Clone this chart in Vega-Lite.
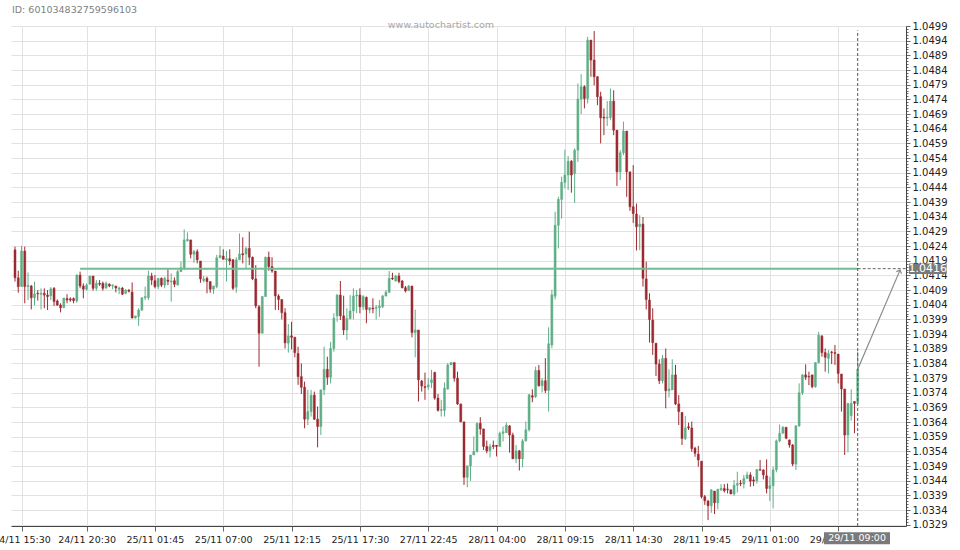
{
  "$schema": "https://vega.github.io/schema/vega-lite/v6.json",
  "width": 895,
  "height": 500,
  "autosize": {"type": "none"},
  "padding": {"left": 11, "top": 26, "right": 54, "bottom": 24},
  "background": "white",
  "title": {"text": "ID: 601034832759596103", "anchor": "start", "frame": "group", "dx": 1, "offset": 6, "font": "DejaVu Sans", "fontSize": 9.5, "fontWeight": "normal", "color": "#808080"},
  "config": {"view": {"stroke": null}, "font": "DejaVu Sans"},
  "datasets": {
    "candles": [
{"k":0,"o":1.04227,"h":1.04238,"l":1.04119,"c":1.04132},
{"k":1,"o":1.04132,"h":1.04156,"l":1.04081,"c":1.04102},
{"k":2,"o":1.04102,"h":1.04241,"l":1.04102,"c":1.04223},
{"k":3,"o":1.04223,"h":1.04238,"l":1.04045,"c":1.04102},
{"k":4,"o":1.04102,"h":1.0415,"l":1.04056,"c":1.04106},
{"k":5,"o":1.04104,"h":1.04107,"l":1.04024,"c":1.04064},
{"k":6,"o":1.04064,"h":1.04119,"l":1.04038,"c":1.04077},
{"k":7,"o":1.04079,"h":1.0409,"l":1.04054,"c":1.04077},
{"k":8,"o":1.04076,"h":1.04096,"l":1.04024,"c":1.04079},
{"k":9,"o":1.04079,"h":1.04096,"l":1.04028,"c":1.04073},
{"k":10,"o":1.04073,"h":1.0409,"l":1.04022,"c":1.04068},
{"k":11,"o":1.0407,"h":1.041,"l":1.04056,"c":1.04094},
{"k":12,"o":1.04096,"h":1.041,"l":1.04036,"c":1.04051},
{"k":13,"o":1.04053,"h":1.04058,"l":1.04036,"c":1.04039},
{"k":14,"o":1.04039,"h":1.04045,"l":1.04014,"c":1.0403},
{"k":15,"o":1.0403,"h":1.04063,"l":1.0403,"c":1.04063},
{"k":16,"o":1.04061,"h":1.04076,"l":1.04045,"c":1.04056},
{"k":17,"o":1.0406,"h":1.04065,"l":1.0405,"c":1.04056},
{"k":18,"o":1.04061,"h":1.04065,"l":1.04045,"c":1.04054},
{"k":19,"o":1.04053,"h":1.04144,"l":1.04047,"c":1.04141},
{"k":20,"o":1.04141,"h":1.04153,"l":1.04096,"c":1.04104},
{"k":21,"o":1.04104,"h":1.04113,"l":1.04062,"c":1.04093},
{"k":22,"o":1.04093,"h":1.04113,"l":1.04088,"c":1.04107},
{"k":23,"o":1.0411,"h":1.04138,"l":1.0411,"c":1.04138},
{"k":24,"o":1.04138,"h":1.04138,"l":1.04088,"c":1.04096},
{"k":25,"o":1.04096,"h":1.04124,"l":1.04088,"c":1.04113},
{"k":26,"o":1.04113,"h":1.04124,"l":1.04104,"c":1.0411},
{"k":27,"o":1.04113,"h":1.04119,"l":1.04088,"c":1.04096},
{"k":28,"o":1.04098,"h":1.04119,"l":1.04093,"c":1.04113},
{"k":29,"o":1.0411,"h":1.04113,"l":1.041,"c":1.04104},
{"k":30,"o":1.04104,"h":1.0411,"l":1.04093,"c":1.04107},
{"k":31,"o":1.04104,"h":1.04104,"l":1.04082,"c":1.04097},
{"k":32,"o":1.04093,"h":1.04102,"l":1.04076,"c":1.04097},
{"k":33,"o":1.04097,"h":1.041,"l":1.04073,"c":1.04076},
{"k":34,"o":1.04079,"h":1.04093,"l":1.04076,"c":1.0409},
{"k":35,"o":1.0409,"h":1.04093,"l":1.04082,"c":1.04086},
{"k":36,"o":1.04083,"h":1.04116,"l":1.03993,"c":1.03995},
{"k":37,"o":1.03995,"h":1.04002,"l":1.03993,"c":1.04002},
{"k":38,"o":1.04,"h":1.04028,"l":1.03968,"c":1.04022},
{"k":39,"o":1.04022,"h":1.04064,"l":1.04019,"c":1.04064},
{"k":40,"o":1.04064,"h":1.04102,"l":1.04056,"c":1.04068},
{"k":41,"o":1.04064,"h":1.04156,"l":1.04056,"c":1.04138},
{"k":42,"o":1.04138,"h":1.04149,"l":1.04107,"c":1.04124},
{"k":43,"o":1.04122,"h":1.04141,"l":1.04096,"c":1.04102},
{"k":44,"o":1.04102,"h":1.0413,"l":1.04093,"c":1.0413},
{"k":45,"o":1.0413,"h":1.04133,"l":1.041,"c":1.04107},
{"k":46,"o":1.04107,"h":1.04136,"l":1.04096,"c":1.0413},
{"k":47,"o":1.04124,"h":1.04161,"l":1.04107,"c":1.0412},
{"k":48,"o":1.04118,"h":1.04147,"l":1.04051,"c":1.04121},
{"k":49,"o":1.04122,"h":1.04133,"l":1.041,"c":1.0411},
{"k":50,"o":1.04107,"h":1.04158,"l":1.04107,"c":1.04153},
{"k":51,"o":1.04153,"h":1.04187,"l":1.04153,"c":1.04166},
{"k":52,"o":1.04164,"h":1.04297,"l":1.04158,"c":1.04261},
{"k":53,"o":1.04258,"h":1.04287,"l":1.04255,"c":1.04263},
{"k":54,"o":1.04261,"h":1.04261,"l":1.04198,"c":1.04212},
{"k":55,"o":1.04212,"h":1.04227,"l":1.04183,"c":1.04221},
{"k":56,"o":1.04221,"h":1.04229,"l":1.04181,"c":1.04193},
{"k":57,"o":1.04189,"h":1.04189,"l":1.04115,"c":1.04128},
{"k":58,"o":1.04122,"h":1.04138,"l":1.04116,"c":1.04128},
{"k":59,"o":1.0413,"h":1.04136,"l":1.04079,"c":1.04119},
{"k":60,"o":1.04119,"h":1.04119,"l":1.04081,"c":1.04093},
{"k":61,"o":1.04093,"h":1.04104,"l":1.04077,"c":1.04104},
{"k":62,"o":1.04102,"h":1.0421,"l":1.04096,"c":1.042},
{"k":63,"o":1.042,"h":1.0424,"l":1.042,"c":1.04208},
{"k":64,"o":1.04206,"h":1.04229,"l":1.04195,"c":1.04195},
{"k":65,"o":1.04193,"h":1.04223,"l":1.04119,"c":1.04197},
{"k":66,"o":1.04197,"h":1.04229,"l":1.04175,"c":1.04189},
{"k":67,"o":1.04193,"h":1.04196,"l":1.0409,"c":1.04096},
{"k":68,"o":1.041,"h":1.04202,"l":1.04081,"c":1.04193},
{"k":69,"o":1.04193,"h":1.04283,"l":1.04193,"c":1.04213},
{"k":70,"o":1.04214,"h":1.0427,"l":1.04181,"c":1.0421},
{"k":71,"o":1.04213,"h":1.04238,"l":1.04164,"c":1.04232},
{"k":72,"o":1.04232,"h":1.04289,"l":1.04175,"c":1.04202},
{"k":73,"o":1.04202,"h":1.04204,"l":1.04124,"c":1.04128},
{"k":74,"o":1.04128,"h":1.04175,"l":1.04028,"c":1.04036},
{"k":75,"o":1.04033,"h":1.04039,"l":1.03829,"c":1.03943},
{"k":76,"o":1.03943,"h":1.0407,"l":1.03943,"c":1.04068},
{"k":77,"o":1.04068,"h":1.04204,"l":1.04068,"c":1.04202},
{"k":78,"o":1.04202,"h":1.04221,"l":1.04156,"c":1.0417},
{"k":79,"o":1.0417,"h":1.04202,"l":1.04149,"c":1.04155},
{"k":80,"o":1.04155,"h":1.04155,"l":1.04022,"c":1.0407},
{"k":81,"o":1.0407,"h":1.04076,"l":1.04022,"c":1.04058},
{"k":82,"o":1.04058,"h":1.04058,"l":1.0399,"c":1.04013},
{"k":83,"o":1.04013,"h":1.04028,"l":1.03891,"c":1.0391},
{"k":84,"o":1.03909,"h":1.03974,"l":1.03877,"c":1.03934},
{"k":85,"o":1.03934,"h":1.03982,"l":1.03888,"c":1.03929},
{"k":86,"o":1.03929,"h":1.03931,"l":1.03861,"c":1.03877},
{"k":87,"o":1.03874,"h":1.03897,"l":1.03767,"c":1.03795},
{"k":88,"o":1.03795,"h":1.0384,"l":1.03736,"c":1.03759},
{"k":89,"o":1.03759,"h":1.03778,"l":1.03619,"c":1.0365},
{"k":90,"o":1.0365,"h":1.0375,"l":1.0363,"c":1.03676},
{"k":91,"o":1.03676,"h":1.0375,"l":1.03659,"c":1.03732},
{"k":92,"o":1.03732,"h":1.03744,"l":1.03647,"c":1.0365},
{"k":93,"o":1.0365,"h":1.03693,"l":1.03554,"c":1.03625},
{"k":94,"o":1.03625,"h":1.0375,"l":1.03596,"c":1.0375},
{"k":95,"o":1.0375,"h":1.03897,"l":1.03732,"c":1.0382},
{"k":96,"o":1.0382,"h":1.03863,"l":1.03767,"c":1.03793},
{"k":97,"o":1.03793,"h":1.03914,"l":1.03772,"c":1.03891},
{"k":98,"o":1.03891,"h":1.04011,"l":1.0388,"c":1.03994},
{"k":99,"o":1.04002,"h":1.04076,"l":1.03982,"c":1.04073},
{"k":100,"o":1.04073,"h":1.04121,"l":1.03988,"c":1.04002},
{"k":101,"o":1.04002,"h":1.04071,"l":1.03937,"c":1.03954},
{"k":102,"o":1.03954,"h":1.04028,"l":1.0392,"c":1.03993},
{"k":103,"o":1.03993,"h":1.04073,"l":1.0399,"c":1.04019},
{"k":104,"o":1.04019,"h":1.04096,"l":1.0399,"c":1.0407},
{"k":105,"o":1.0407,"h":1.0409,"l":1.04011,"c":1.04073},
{"k":106,"o":1.04073,"h":1.04096,"l":1.04011,"c":1.04033},
{"k":107,"o":1.04033,"h":1.04073,"l":1.04022,"c":1.04068},
{"k":108,"o":1.04065,"h":1.04068,"l":1.03977,"c":1.04024},
{"k":109,"o":1.04022,"h":1.04031,"l":1.04011,"c":1.0403},
{"k":110,"o":1.04029,"h":1.04062,"l":1.04011,"c":1.04026},
{"k":111,"o":1.04028,"h":1.04039,"l":1.0399,"c":1.04031},
{"k":112,"o":1.0403,"h":1.04056,"l":1.03999,"c":1.04036},
{"k":113,"o":1.04033,"h":1.04073,"l":1.04028,"c":1.0407},
{"k":114,"o":1.0407,"h":1.0409,"l":1.04068,"c":1.04083},
{"k":115,"o":1.04083,"h":1.04155,"l":1.04079,"c":1.0413},
{"k":116,"o":1.04131,"h":1.04149,"l":1.04124,"c":1.04128},
{"k":117,"o":1.04121,"h":1.04141,"l":1.04119,"c":1.04138},
{"k":118,"o":1.04138,"h":1.04149,"l":1.04113,"c":1.04119},
{"k":119,"o":1.04121,"h":1.04124,"l":1.04096,"c":1.04098},
{"k":120,"o":1.04098,"h":1.04104,"l":1.04082,"c":1.04087},
{"k":121,"o":1.04088,"h":1.04107,"l":1.04088,"c":1.04104},
{"k":122,"o":1.04104,"h":1.04104,"l":1.03929,"c":1.03945},
{"k":123,"o":1.03945,"h":1.04023,"l":1.03861,"c":1.03954},
{"k":124,"o":1.03954,"h":1.03954,"l":1.0371,"c":1.03784},
{"k":125,"o":1.0378,"h":1.03784,"l":1.03744,"c":1.03763},
{"k":126,"o":1.03761,"h":1.03809,"l":1.03716,"c":1.03758},
{"k":127,"o":1.0376,"h":1.0379,"l":1.0375,"c":1.03767},
{"k":128,"o":1.03775,"h":1.03818,"l":1.03756,"c":1.03784},
{"k":129,"o":1.03809,"h":1.03812,"l":1.03716,"c":1.03722},
{"k":130,"o":1.03722,"h":1.03736,"l":1.03676,"c":1.0368},
{"k":131,"o":1.0368,"h":1.03716,"l":1.03659,"c":1.03683},
{"k":132,"o":1.0368,"h":1.03775,"l":1.03659,"c":1.03756},
{"k":133,"o":1.03753,"h":1.03841,"l":1.0375,"c":1.03835},
{"k":134,"o":1.03835,"h":1.03843,"l":1.03835,"c":1.03843},
{"k":135,"o":1.03843,"h":1.03843,"l":1.03778,"c":1.0379},
{"k":136,"o":1.0379,"h":1.03812,"l":1.03699,"c":1.03702},
{"k":137,"o":1.03702,"h":1.03702,"l":1.03639,"c":1.03641},
{"k":138,"o":1.03641,"h":1.03641,"l":1.03426,"c":1.03452},
{"k":139,"o":1.03452,"h":1.03491,"l":1.03418,"c":1.03491},
{"k":140,"o":1.03491,"h":1.03528,"l":1.0344,"c":1.03528},
{"k":141,"o":1.03528,"h":1.03591,"l":1.03528,"c":1.0354},
{"k":142,"o":1.0354,"h":1.03639,"l":1.03536,"c":1.03636},
{"k":143,"o":1.03636,"h":1.03657,"l":1.03597,"c":1.03617},
{"k":144,"o":1.03617,"h":1.03617,"l":1.03545,"c":1.03557},
{"k":145,"o":1.03557,"h":1.03577,"l":1.03534,"c":1.03542},
{"k":146,"o":1.03543,"h":1.03566,"l":1.0352,"c":1.03557},
{"k":147,"o":1.03561,"h":1.03577,"l":1.03548,"c":1.03557},
{"k":148,"o":1.03561,"h":1.03562,"l":1.03523,"c":1.03557},
{"k":149,"o":1.03557,"h":1.03608,"l":1.03557,"c":1.03602},
{"k":150,"o":1.03602,"h":1.03625,"l":1.03574,"c":1.03607},
{"k":151,"o":1.03604,"h":1.03639,"l":1.03604,"c":1.0363},
{"k":152,"o":1.03627,"h":1.0363,"l":1.03536,"c":1.03596},
{"k":153,"o":1.03596,"h":1.03604,"l":1.03514,"c":1.03515},
{"k":154,"o":1.03515,"h":1.03562,"l":1.035,"c":1.03542},
{"k":155,"o":1.03542,"h":1.03545,"l":1.03475,"c":1.03515},
{"k":156,"o":1.03515,"h":1.03582,"l":1.03486,"c":1.03576},
{"k":157,"o":1.03576,"h":1.03642,"l":1.03574,"c":1.03614},
{"k":158,"o":1.03614,"h":1.03736,"l":1.03608,"c":1.03733},
{"k":159,"o":1.0373,"h":1.03752,"l":1.03708,"c":1.03725},
{"k":160,"o":1.03727,"h":1.03829,"l":1.03722,"c":1.03816},
{"k":161,"o":1.03816,"h":1.03835,"l":1.03761,"c":1.03764},
{"k":162,"o":1.03764,"h":1.0379,"l":1.03741,"c":1.03781},
{"k":163,"o":1.03781,"h":1.03858,"l":1.03739,"c":1.03748},
{"k":164,"o":1.03748,"h":1.03963,"l":1.03676,"c":1.03907},
{"k":165,"o":1.03903,"h":1.04091,"l":1.03892,"c":1.04074},
{"k":166,"o":1.04069,"h":1.04357,"l":1.04058,"c":1.04311},
{"k":167,"o":1.04311,"h":1.04408,"l":1.04232,"c":1.04399},
{"k":168,"o":1.04399,"h":1.04476,"l":1.04334,"c":1.04457},
{"k":169,"o":1.04457,"h":1.04569,"l":1.04436,"c":1.04482},
{"k":170,"o":1.04482,"h":1.04547,"l":1.04431,"c":1.04529},
{"k":171,"o":1.04529,"h":1.04533,"l":1.04422,"c":1.04482},
{"k":172,"o":1.04487,"h":1.04573,"l":1.04387,"c":1.04567},
{"k":173,"o":1.04567,"h":1.04794,"l":1.04527,"c":1.04741},
{"k":174,"o":1.04741,"h":1.04826,"l":1.0469,"c":1.04783},
{"k":175,"o":1.04783,"h":1.04788,"l":1.04709,"c":1.04743},
{"k":176,"o":1.04743,"h":1.04953,"l":1.04726,"c":1.04942},
{"k":177,"o":1.04942,"h":1.04942,"l":1.04817,"c":1.04874},
{"k":178,"o":1.04874,"h":1.04973,"l":1.04788,"c":1.04817},
{"k":179,"o":1.04817,"h":1.04819,"l":1.0472,"c":1.04749},
{"k":180,"o":1.04749,"h":1.04766,"l":1.0459,"c":1.04677},
{"k":181,"o":1.04679,"h":1.04709,"l":1.04618,"c":1.04676},
{"k":182,"o":1.04676,"h":1.04734,"l":1.04649,"c":1.04679},
{"k":183,"o":1.04678,"h":1.04777,"l":1.04669,"c":1.04734},
{"k":184,"o":1.04734,"h":1.04771,"l":1.04618,"c":1.04635},
{"k":185,"o":1.04635,"h":1.04635,"l":1.04445,"c":1.04493},
{"k":186,"o":1.04493,"h":1.04567,"l":1.04465,"c":1.04558},
{"k":187,"o":1.04558,"h":1.04664,"l":1.0455,"c":1.04632},
{"k":188,"o":1.04632,"h":1.04632,"l":1.04408,"c":1.04493},
{"k":189,"o":1.04493,"h":1.04493,"l":1.0436,"c":1.04374},
{"k":190,"o":1.04374,"h":1.04516,"l":1.04319,"c":1.04351},
{"k":191,"o":1.04349,"h":1.04385,"l":1.04225,"c":1.04306},
{"k":192,"o":1.04306,"h":1.04345,"l":1.04226,"c":1.04315},
{"k":193,"o":1.04315,"h":1.04339,"l":1.04102,"c":1.0413},
{"k":194,"o":1.04128,"h":1.04187,"l":1.04024,"c":1.04058},
{"k":195,"o":1.04056,"h":1.04079,"l":1.03911,"c":1.0399},
{"k":196,"o":1.03988,"h":1.04028,"l":1.03869,"c":1.03911},
{"k":197,"o":1.03909,"h":1.03909,"l":1.03797,"c":1.03838},
{"k":198,"o":1.03838,"h":1.03854,"l":1.0377,"c":1.03781},
{"k":199,"o":1.03781,"h":1.03869,"l":1.03772,"c":1.03857},
{"k":200,"o":1.03857,"h":1.03891,"l":1.03687,"c":1.03747},
{"k":201,"o":1.03747,"h":1.0382,"l":1.03724,"c":1.03753},
{"k":202,"o":1.0375,"h":1.03854,"l":1.0375,"c":1.03801},
{"k":203,"o":1.03801,"h":1.03835,"l":1.03698,"c":1.03702},
{"k":204,"o":1.03702,"h":1.03732,"l":1.0363,"c":1.03676},
{"k":205,"o":1.03673,"h":1.03673,"l":1.03562,"c":1.03584},
{"k":206,"o":1.03584,"h":1.03661,"l":1.03579,"c":1.0362},
{"k":207,"o":1.03624,"h":1.03638,"l":1.03613,"c":1.0362},
{"k":208,"o":1.0362,"h":1.03642,"l":1.03539,"c":1.0355},
{"k":209,"o":1.03551,"h":1.03556,"l":1.03522,"c":1.03534},
{"k":210,"o":1.03531,"h":1.03559,"l":1.03488,"c":1.03511},
{"k":211,"o":1.03507,"h":1.03507,"l":1.0338,"c":1.03386},
{"k":212,"o":1.03386,"h":1.03392,"l":1.03358,"c":1.03372},
{"k":213,"o":1.03371,"h":1.03375,"l":1.03306,"c":1.03355},
{"k":214,"o":1.03355,"h":1.03412,"l":1.03331,"c":1.03409},
{"k":215,"o":1.03405,"h":1.03405,"l":1.03327,"c":1.03365},
{"k":216,"o":1.03365,"h":1.03413,"l":1.03343,"c":1.03411},
{"k":217,"o":1.03409,"h":1.03429,"l":1.03406,"c":1.03414},
{"k":218,"o":1.03414,"h":1.03429,"l":1.034,"c":1.03406},
{"k":219,"o":1.03412,"h":1.03431,"l":1.03397,"c":1.0341},
{"k":220,"o":1.03409,"h":1.03411,"l":1.03395,"c":1.03395},
{"k":221,"o":1.03395,"h":1.03443,"l":1.03389,"c":1.03425},
{"k":222,"o":1.03425,"h":1.03471,"l":1.034,"c":1.03431},
{"k":223,"o":1.03432,"h":1.03443,"l":1.03422,"c":1.0343},
{"k":224,"o":1.03429,"h":1.0346,"l":1.03414,"c":1.03448},
{"k":225,"o":1.03448,"h":1.03471,"l":1.03448,"c":1.0346},
{"k":226,"o":1.0346,"h":1.03469,"l":1.0342,"c":1.03439},
{"k":227,"o":1.03443,"h":1.03454,"l":1.03422,"c":1.03439},
{"k":228,"o":1.0344,"h":1.03479,"l":1.03431,"c":1.03479},
{"k":229,"o":1.03478,"h":1.03511,"l":1.03475,"c":1.03476},
{"k":230,"o":1.03477,"h":1.03479,"l":1.03445,"c":1.0346},
{"k":231,"o":1.03457,"h":1.03513,"l":1.03397,"c":1.03414},
{"k":232,"o":1.03414,"h":1.03454,"l":1.03371,"c":1.03423},
{"k":233,"o":1.03423,"h":1.03488,"l":1.03346,"c":1.03477},
{"k":234,"o":1.03477,"h":1.03581,"l":1.03469,"c":1.03576},
{"k":235,"o":1.03576,"h":1.03632,"l":1.03571,"c":1.03602},
{"k":236,"o":1.03602,"h":1.03627,"l":1.03602,"c":1.03622},
{"k":237,"o":1.03622,"h":1.03624,"l":1.03582,"c":1.03585},
{"k":238,"o":1.03579,"h":1.03581,"l":1.03553,"c":1.03562},
{"k":239,"o":1.03562,"h":1.03565,"l":1.0349,"c":1.03497},
{"k":240,"o":1.03497,"h":1.0363,"l":1.03477,"c":1.03627},
{"k":241,"o":1.03627,"h":1.03772,"l":1.03624,"c":1.0374},
{"k":242,"o":1.0374,"h":1.03803,"l":1.03732,"c":1.03801},
{"k":243,"o":1.03801,"h":1.03837,"l":1.03784,"c":1.03793},
{"k":244,"o":1.03796,"h":1.03812,"l":1.03766,"c":1.03794},
{"k":245,"o":1.03801,"h":1.03801,"l":1.03755,"c":1.03761},
{"k":246,"o":1.03761,"h":1.03843,"l":1.03757,"c":1.03843},
{"k":247,"o":1.03843,"h":1.03948,"l":1.0384,"c":1.03936},
{"k":248,"o":1.03933,"h":1.03937,"l":1.03863,"c":1.03877},
{"k":249,"o":1.03877,"h":1.03891,"l":1.03812,"c":1.03861},
{"k":250,"o":1.03857,"h":1.03886,"l":1.03806,"c":1.03874},
{"k":251,"o":1.03879,"h":1.03883,"l":1.03838,"c":1.03877},
{"k":252,"o":1.03877,"h":1.03903,"l":1.03835,"c":1.03874},
{"k":253,"o":1.03872,"h":1.03872,"l":1.03772,"c":1.03806},
{"k":254,"o":1.03804,"h":1.03804,"l":1.03676,"c":1.03753},
{"k":255,"o":1.03753,"h":1.03753,"l":1.03528,"c":1.03596},
{"k":256,"o":1.03596,"h":1.03704,"l":1.03537,"c":1.03704},
{"k":257,"o":1.03662,"h":1.03752,"l":1.03645,"c":1.03704},
{"k":258,"o":1.0371,"h":1.03712,"l":1.03602,"c":1.03704},
{"k":259,"o":1.03704,"h":1.0388,"l":1.03702,"c":1.0382}
    ]
  },
  "layer": [
    {
      "data": {"name": "candles"},
      "mark": {"type": "rule", "strokeWidth": 1},
      "encoding": {
        "x": {"field": "k", "type": "quantitative", "title": null,
          "scale": {"domain": [-1.23, 273.84], "nice": false, "zero": false, "padding": 0},
          "axis": {
            "orient": "bottom",
            "values": [2,7.25,12.5,17.75,22,27.25,32.5,37.75,43,48.25,53.5,58.75,64,69.25,74.5,79.75,85,90.25,95.5,100.75,106,111.25,116.5,121.75,127,132.25,137.5,142.75,148,153.25,158.5,163.75,169,174.25,179.5,184.75,190,195.25,200.5,205.75,211,216.25,221.5,226.75,232,237.25,242.5,247.75,253,258.25,263.5,268.75],
            "labelExpr": "datum.value % 1 == 0 ? ['24/11 15:30','24/11 20:30','25/11 01:45','25/11 07:00','25/11 12:15','25/11 17:30','27/11 22:45','28/11 04:00','28/11 09:15','28/11 14:30','28/11 19:45','29/11 01:00','29/11 06:15'][indexof([2,22,43,64,85,106,127,148,169,190,211,232,253], datum.value)] : ''",
            "labelFont": "DejaVu Sans", "labelFontSize": 9.5, "labelColor": "#222222",
            "labelFlush": false, "labelOverlap": false, "labelBound": false, "labelPadding": 3,
            "domainColor": "#444444", "domainWidth": 1,
            "tickColor": "#666666",
            "tickSize": {"condition": {"test": "datum.value % 1 == 0", "value": 5}, "value": 3},
            "grid": true, "gridColor": "#e2e2e2", "gridWidth": 1,
            "gridOpacity": {"condition": {"test": "datum.value % 1 == 0", "value": 1}, "value": 0}
          }
        },
        "y": {"field": "l", "type": "quantitative", "title": null,
          "scale": {"domain": [1.03286, 1.0499], "nice": false, "zero": false, "padding": 0},
          "axis": {
            "orient": "right",
            "tickCount": 170,
            "labelExpr": "round(datum.value*10000) % 5 == 4 ? format(datum.value, '.4f') : ''",
            "labelFont": "DejaVu Sans", "labelFontSize": 10, "labelColor": "#222222",
            "labelOverlap": false, "labelFlush": false, "labelPadding": 2,
            "domainColor": "#444444", "domainWidth": 1,
            "tickColor": "#666666",
            "tickSize": {"condition": {"test": "round(datum.value*10000) % 5 == 4", "value": 4}, "value": 2},
            "grid": true, "gridColor": "#e2e2e2", "gridWidth": 1,
            "gridOpacity": {"condition": {"test": "round(datum.value*10000) % 5 == 4", "value": 1}, "value": 0}
          }
        },
        "y2": {"field": "h"},
        "color": {"condition": {"test": "datum.c >= datum.o", "value": "#5fae87"}, "value": "#9b2a30"}
      }
    },
    {
      "data": {"name": "candles"},
      "mark": {"type": "bar", "size": 2, "strokeWidth": 0.5},
      "encoding": {
        "x": {"field": "k", "type": "quantitative", "title": null},
        "y": {"field": "o", "type": "quantitative", "title": null},
        "y2": {"field": "c"},
        "color": {"condition": {"test": "datum.c >= datum.o", "value": "#5fae87"}, "value": "#9b2a30"},
        "stroke": {"condition": {"test": "datum.c >= datum.o", "value": "#5fae87"}, "value": "#9b2a30"}
      }
    },
    {
      "data": {"values": [{}]},
      "mark": {"type": "rule", "color": "#72bd94", "strokeWidth": 2},
      "encoding": {"x": {"datum": 20}, "x2": {"datum": 259}, "y": {"datum": 1.04163}}
    },
    {
      "data": {"values": [{}]},
      "mark": {"type": "rule", "color": "#666666", "strokeWidth": 1, "strokeDash": [3, 2]},
      "encoding": {"x": {"datum": 259}, "x2": {"datum": 273.84}, "y": {"datum": 1.04163}}
    },
    {
      "data": {"values": [{}]},
      "mark": {"type": "rule", "color": "#555555", "strokeWidth": 1, "strokeDash": [3, 2]},
      "encoding": {"x": {"datum": 259}, "y": {"datum": 1.03286}, "y2": {"datum": 1.04975}}
    },
    {
      "data": {"values": [{}]},
      "mark": {"type": "rule", "color": "#8a8a8a", "strokeWidth": 1.2},
      "encoding": {"x": {"datum": 259}, "y": {"datum": 1.0382}, "x2": {"datum": 272}, "y2": {"datum": 1.04158}}
    },
    {
      "data": {"values": [{}]},
      "mark": {"type": "point", "shape": "M-0.7,0.7L0,0L0.7,0.7", "size": 64, "filled": false, "stroke": "#8a8a8a", "strokeWidth": 1.2, "angle": 23, "opacity": 1},
      "encoding": {"x": {"datum": 272}, "y": {"datum": 1.04158}}
    },
    {
      "data": {"values": [{}]},
      "mark": {"type": "rect", "color": "#7a7a7a"},
      "encoding": {"x": {"datum": 274.76}, "x2": {"datum": 286.35}, "y": {"datum": 1.04181}, "y2": {"datum": 1.04145}}
    },
    {
      "data": {"values": [{}]},
      "mark": {"type": "text", "text": "1.0416", "color": "white", "font": "DejaVu Sans", "fontSize": 11, "align": "center", "baseline": "middle"},
      "encoding": {"x": {"datum": 280.55}, "y": {"datum": 1.04163}}
    },
    {
      "data": {"values": [{}]},
      "mark": {"type": "rect", "color": "#7a7a7a"},
      "encoding": {"x": {"datum": 248.64}, "x2": {"datum": 268.92}, "y": {"datum": 1.032645}, "y2": {"datum": 1.032236}}
    },
    {
      "data": {"values": [{}]},
      "mark": {"type": "text", "text": "29/11 09:00", "color": "white", "font": "DejaVu Sans", "fontSize": 9.5, "align": "center", "baseline": "middle"},
      "encoding": {"x": {"datum": 258.8}, "y": {"datum": 1.03244}}
    },
    {
      "data": {"values": [{}]},
      "mark": {"type": "text", "text": "www.autochartist.com", "color": "#a8a8a8", "font": "DejaVu Sans", "fontSize": 9.5, "align": "center", "baseline": "middle"},
      "encoding": {"x": {"datum": 130.9}, "y": {"datum": 1.04993}}
    }
  ]
}
